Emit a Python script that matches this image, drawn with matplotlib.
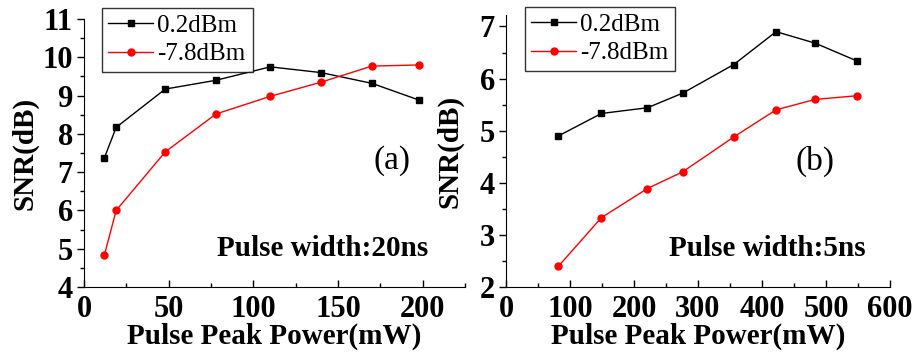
import matplotlib
matplotlib.use("Agg")
import matplotlib.pyplot as plt
from matplotlib.ticker import MultipleLocator

plt.rcParams['font.family'] = ['Liberation Serif', 'DejaVu Serif']

# (a) pulse width 20 ns
power_a = [12, 19, 48, 78, 110, 140, 170, 198]
snr_a_high = [7.37, 8.17, 9.17, 9.40, 9.75, 9.60, 9.32, 8.88]
snr_a_low = [4.83, 6.00, 7.53, 8.52, 8.98, 9.35, 9.77, 9.80]

# (b) pulse width 5 ns
power_b = [82, 149, 221, 276, 356, 422, 483, 548]
snr_b_high = [4.90, 5.33, 5.44, 5.72, 6.27, 6.90, 6.68, 6.34]
snr_b_low = [2.40, 3.33, 3.89, 4.21, 4.88, 5.40, 5.60, 5.67]

labels = ["0.2dBm", "-7.8dBm"]

W, H = 917, 352
fig = plt.figure(figsize=(W / 100, H / 100), dpi=100)


def box(l, r, t, b):
    # pixel box (from top-left) -> figure fraction
    return [l / W, 1 - b / H, (r - l) / W, (b - t) / H]


ax1 = fig.add_axes(box(84, 465, 19, 287))
ax2 = fig.add_axes(box(506, 890, 15, 287))

panels = [
    (ax1, power_a, snr_a_high, snr_a_low, (0, 225), (4, 11), 50, 25, "(a)", "Pulse width:20ns",
     (102, 253, 8, 69), (392, 161), (323, 249), 25),
    (ax2, power_b, snr_b_high, snr_b_low, (0, 600), (2, 7.22), 100, 50, "(b)", "Pulse width:5ns",
     (525, 675, 7, 68), (815, 161), (767, 248), 450),
]

for (ax, x, yh, yl, xlim, ylim, xmaj, xmin, tag, note, leg, tagpos, notepos, ylab_x) in panels:
    ax.plot(x, yh, color='black', lw=1, marker='s', ms=5, label=labels[0])
    ax.plot(x, yl, color='red', lw=1, marker='o', ms=5, label=labels[1])
    ax.set_xlim(*xlim)
    ax.set_ylim(*ylim)
    ax.xaxis.set_major_locator(MultipleLocator(xmaj))
    ax.xaxis.set_minor_locator(MultipleLocator(xmin))
    ax.yaxis.set_major_locator(MultipleLocator(1))
    ax.yaxis.set_minor_locator(MultipleLocator(0.5))
    for s in ['top', 'right']:
        ax.spines[s].set_visible(False)
    ax.tick_params(axis='x', which='both', direction='in')
    ax.tick_params(axis='y', which='both', direction='out')
    ax.tick_params(which='major', length=5, width=1, labelsize=22)
    ax.tick_params(axis='x', which='major', pad=6)
    ax.tick_params(axis='y', which='major', pad=3)
    ax.tick_params(which='minor', length=3, width=1)
    for t in ax.get_xticklabels() + ax.get_yticklabels():
        t.set_fontweight('bold')

    # axis labels placed by pixel position
    pos = ax.get_position()
    ax_l, ax_w = pos.x0 * W, pos.width * W
    ax_b, ax_h = (1 - pos.y0) * H, pos.height * H
    ax.set_xlabel("Pulse Peak Power(mW)", fontsize=21, fontweight='bold')
    ax.xaxis.set_label_coords(0.5, -(336 - ax_b) / ax_h)
    ax.xaxis.label.set_va('center')
    ax.set_ylabel("SNR(dB)", fontsize=21, fontweight='bold')
    ax.yaxis.set_label_coords((ylab_x - ax_l) / ax_w, 0.5)
    ax.yaxis.label.set_va('center')

    l, r, t, b = leg
    lg = ax.legend(loc='upper left', bbox_to_anchor=(l / W, 1 - b / H, (r - l) / W, (b - t) / H),
                   bbox_transform=fig.transFigure, mode='expand', fontsize=18,
                   frameon=True, fancybox=False, borderaxespad=0, borderpad=0.25,
                   handlelength=1.8, handletextpad=0.15, labelspacing=0.25)
    lg.get_frame().set_edgecolor('black')
    lg.get_frame().set_linewidth(1)

    fig.text(tagpos[0] / W, 1 - tagpos[1] / H, tag, fontsize=24, ha='center', va='center')
    fig.text(notepos[0] / W, 1 - notepos[1] / H, note, fontsize=21, fontweight='bold',
             ha='center', va='center')

fig.savefig("out.png", dpi=100)
